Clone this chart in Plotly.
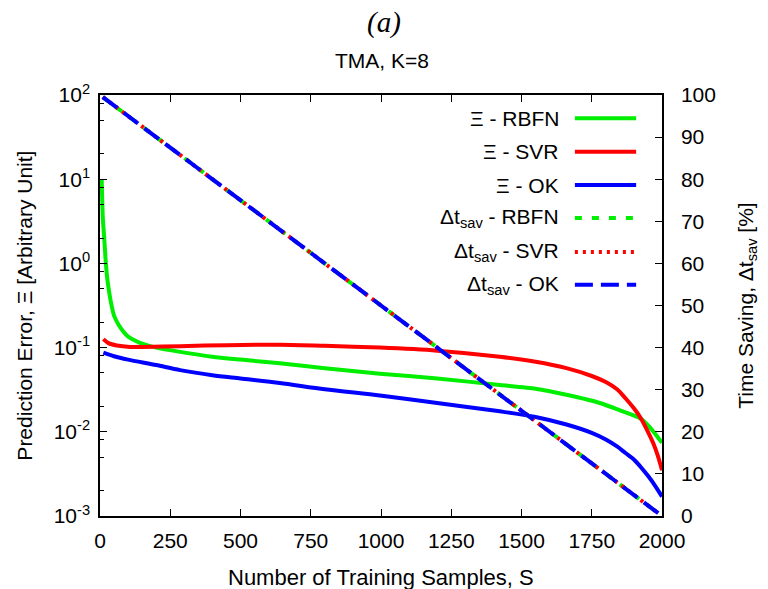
import plotly.graph_objects as go

# ---- data -------------------------------------------------------------
# Prediction error (log scale, left axis)
s_rbfn = [6, 10, 15, 20, 25, 30, 40, 50, 65, 83, 100, 142, 200, 285, 400, 500,
          640, 800, 996, 1200, 1423, 1550, 1660, 1779, 1850, 1922, 1960, 2000]
err_rbfn = [10.0, 3.5, 2.0, 1.1, 0.7, 0.52, 0.33, 0.24, 0.19, 0.155, 0.135, 0.114,
            0.100, 0.089, 0.078, 0.072, 0.065, 0.057, 0.049, 0.043, 0.036, 0.0325,
            0.0275, 0.022, 0.018, 0.0145, 0.011, 0.0074]

s_svr = [12, 30, 60, 107, 150, 285, 450, 640, 800, 996, 1200, 1423, 1550, 1660,
         1750, 1800, 1840, 1870, 1900, 1922, 1950, 1969, 1985, 2000]
err_svr = [0.126, 0.113, 0.106, 0.102, 0.102, 0.104, 0.107, 0.108, 0.105, 0.100,
           0.092, 0.078, 0.068, 0.057, 0.046, 0.039, 0.032, 0.025, 0.019, 0.015,
           0.010, 0.0073, 0.0052, 0.0035]

s_ok = [12, 50, 100, 200, 285, 400, 500, 640, 800, 996, 1200, 1423, 1550, 1660,
        1750, 1800, 1840, 1870, 1900, 1922, 1950, 1975, 2000]
err_ok = [0.087, 0.079, 0.072, 0.062, 0.054, 0.047, 0.043, 0.038, 0.032, 0.027,
          0.022, 0.0175, 0.015, 0.0122, 0.0097, 0.0081, 0.0067, 0.0056, 0.0047,
          0.0039, 0.0030, 0.0023, 0.0017]

# Time saving (linear, right axis) - identical for the three models
s_sav = [10, 500, 1000, 1500, 1990]
tsav_rbfn = [99.5, 75.0, 50.0, 25.0, 0.5]
tsav_svr = [99.5, 75.0, 50.0, 25.0, 0.5]
tsav_ok = [99.5, 75.0, 50.0, 25.0, 0.5]

x_ticks = [0, 250, 500, 750, 1000, 1250, 1500, 1750, 2000]
y_ticks = [1e-3, 1e-2, 1e-1, 1e0, 1e1, 1e2]
y_ticktext = ["10<sup>-3</sup>", "10<sup>-2</sup>", "10<sup>-1</sup>",
              "10<sup>0</sup>", "10<sup>1</sup>", "10<sup>2</sup>"]
y_minor = [m * 10.0 ** e for e in range(-3, 2) for m in (2, 5, 8)]
y2_ticks = list(range(0, 101, 10))

GREEN, RED, BLUE = "#00ee00", "#ff0000", "#0000ff"
FONT = "Liberation Sans, Arial, sans-serif"
FS = 21

legend_rows = [
    ("Ξ - RBFN", GREEN, "solid"),
    ("Ξ - SVR", RED, "solid"),
    ("Ξ - OK", BLUE, "solid"),
    ("Δt<sub>sav</sub> - RBFN", GREEN, "7px,10px"),
    ("Δt<sub>sav</sub> - SVR", RED, "3px,5px"),
    ("Δt<sub>sav</sub> - OK", BLUE, "18px,8px"),
]

# ---- figure -----------------------------------------------------------
fig = go.Figure()

fig.add_trace(go.Scatter(x=s_rbfn, y=err_rbfn, mode="lines",
                         line=dict(color=GREEN, width=4, shape="spline", smoothing=0.6),
                         showlegend=False, yaxis="y"))
for s, e, c in [(s_svr, err_svr, RED), (s_ok, err_ok, BLUE)]:
    fig.add_trace(go.Scatter(x=s, y=e, mode="lines",
                             line=dict(color=c, width=4, shape="spline", smoothing=0.8),
                             showlegend=False, yaxis="y"))

for t, c, d in [(tsav_rbfn, GREEN, "7px,10px"), (tsav_svr, RED, "3px,5px"),
                (tsav_ok, BLUE, "18px,8px")]:
    fig.add_trace(go.Scatter(x=s_sav, y=t, mode="lines",
                             line=dict(color=c, width=4, dash=d),
                             showlegend=False, yaxis="y2"))

# hand-made key: text on the left, line sample on the right
row_y = [0.945, 0.865, 0.786, 0.708, 0.627, 0.549]
shapes, annotations = [], []
for (label, color, dash), yy in zip(legend_rows, row_y):
    annotations.append(dict(x=0.82, y=yy, xref="paper", yref="paper", text=label,
                            showarrow=False, xanchor="right", yanchor="middle",
                            font=dict(family=FONT, size=FS, color="black")))
    shapes.append(dict(type="line", xref="paper", yref="paper", x0=0.845, x1=0.954,
                       y0=yy, y1=yy, line=dict(color=color, width=4, dash=dash)))

annotations += [
    dict(x=0.505, y=1.172, xref="paper", yref="paper", text="<i>(a)</i>",
         showarrow=False, xanchor="center", yanchor="middle",
         font=dict(family="Liberation Serif, Times New Roman, serif", size=29, color="black")),
    dict(x=0.502, y=1.083, xref="paper", yref="paper", text="TMA, K=8",
         showarrow=False, xanchor="center", yanchor="middle",
         font=dict(family=FONT, size=FS, color="black")),
    dict(x=0.5, y=-0.145, xref="paper", yref="paper",
         text="Number of Training Samples, S", showarrow=False,
         xanchor="center", yanchor="middle", font=dict(family=FONT, size=FS + 1, color="black")),
    dict(x=-0.135, y=0.5, xref="paper", yref="paper",
         text="Prediction Error, Ξ [Arbitrary Unit]", showarrow=False, textangle=-90,
         xanchor="center", yanchor="middle", font=dict(family=FONT, size=FS, color="black")),
    dict(x=1.15, y=0.5, xref="paper", yref="paper",
         text="Time Saving, Δt<sub>sav</sub> [%]", showarrow=False, textangle=-90,
         xanchor="center", yanchor="middle", font=dict(family=FONT, size=FS, color="black")),
]

fig.update_layout(
    width=768, height=589,
    margin=dict(l=100, r=106, t=95, b=73),
    paper_bgcolor="white", plot_bgcolor="white",
    font=dict(family=FONT, size=FS, color="black"),
    showlegend=False,
    shapes=shapes, annotations=annotations,
    xaxis=dict(range=[0, 2000], tickvals=x_ticks, ticks="inside", ticklen=7,
               tickwidth=1, tickcolor="black", showline=True, linecolor="black",
               linewidth=1.5, mirror="ticks", showgrid=False, zeroline=False,
               tickfont=dict(size=FS), ticklabelstandoff=5),
    yaxis=dict(type="log", range=[-3, 2], tickvals=y_ticks, ticktext=y_ticktext,
               ticks="inside", ticklen=7, tickwidth=1, tickcolor="black",
               showline=True, linecolor="black", linewidth=1.5, mirror=True,
               showgrid=False, zeroline=False, tickfont=dict(size=FS),
               ticklabelstandoff=4,
               minor=dict(tickmode="array", tickvals=y_minor, ticks="inside",
                          ticklen=4, tickcolor="black", showgrid=False)),
    yaxis2=dict(range=[0, 100], tickvals=y2_ticks, overlaying="y", side="right",
                ticks="inside", ticklen=7, tickwidth=1, tickcolor="black",
                showline=True, linecolor="black", linewidth=1.5,
                showgrid=False, zeroline=False, tickfont=dict(size=FS),
                ticklabelstandoff=13),
)

fig.write_html("out.html")
